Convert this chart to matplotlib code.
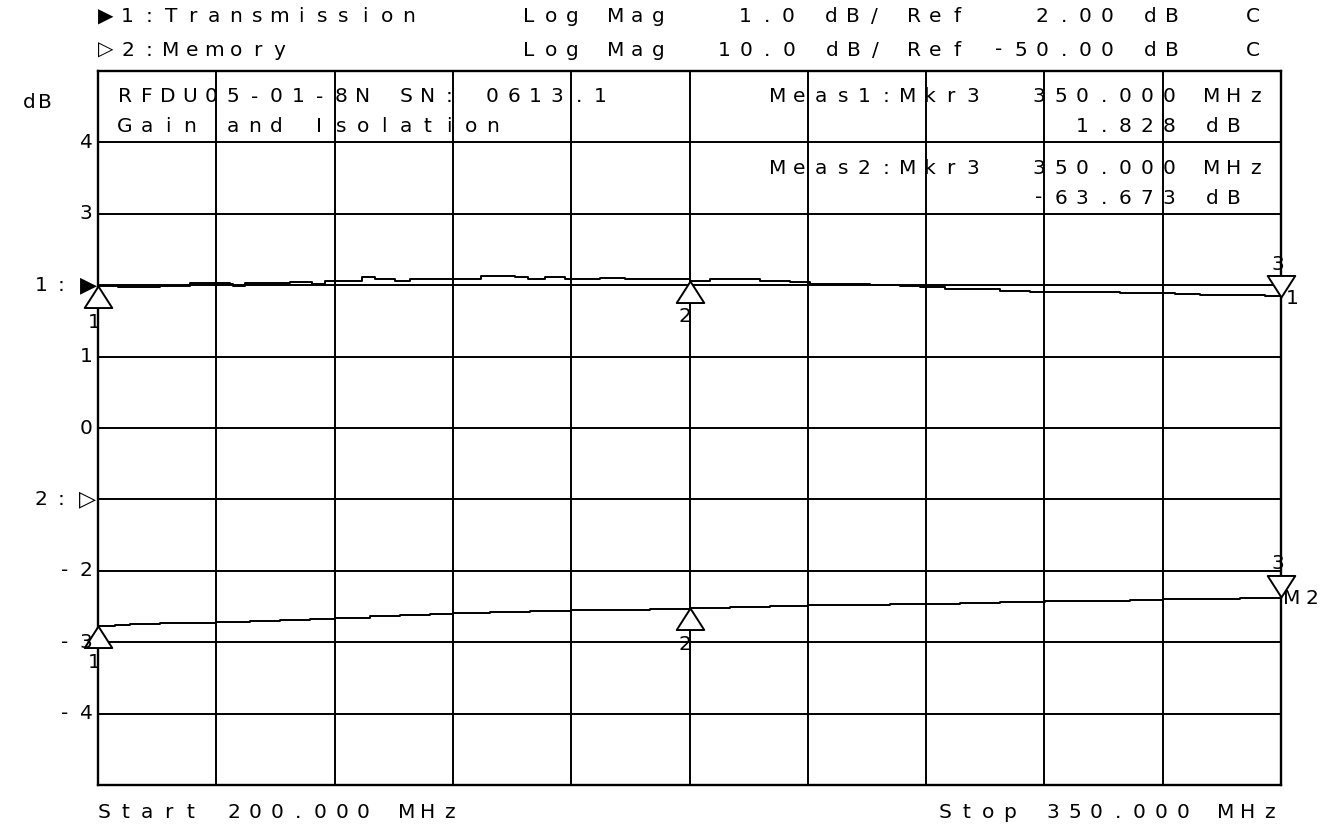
import matplotlib
matplotlib.use("Agg")
import matplotlib.pyplot as plt
from matplotlib.path import Path

# ---- trace data ----
# channel 1: Transmission, Log Mag 1.0 dB/div, Ref 2.00 dB
trans_freq_mhz = [200.0, 202.5, 205.1, 207.9, 210.4, 211.7, 214.2, 216.7, 217.1, 218.6,
                  221.8, 224.3, 227.1, 228.8, 232.0, 233.5, 235.1, 237.7, 239.6, 243.4,
                  245.9, 248.6, 251.0, 252.9, 254.5, 256.7, 259.2, 263.7, 266.8, 271.3,
                  275.0, 277.6, 281.4, 283.9, 287.7, 290.3, 294.1, 297.9, 301.7, 304.2,
                  307.4, 310.6, 314.4, 318.2, 322.0, 325.8, 329.6, 333.4, 336.6, 339.7,
                  342.3, 345.4, 348.0, 350.0]
trans_db = [1.985, 1.97, 1.975, 1.985, 1.99, 2.03, 2.03, 2.02, 1.985, 2.03,
            2.03, 2.04, 2.01, 2.06, 2.06, 2.11, 2.08, 2.06, 2.09, 2.09,
            2.08, 2.13, 2.13, 2.12, 2.09, 2.12, 2.09, 2.10, 2.08, 2.08,
            2.065, 2.09, 2.08, 2.06, 2.05, 2.02, 2.01, 2.00, 1.99, 1.97,
            1.95, 1.94, 1.92, 1.91, 1.90, 1.90, 1.89, 1.89, 1.87, 1.86,
            1.865, 1.86, 1.85, 1.828]

# channel 2: Memory, Log Mag 10.0 dB/div, Ref -50.00 dB
mem_freq_mhz = [200.0, 202.2, 204.1, 207.9, 211.7, 215.0, 219.3, 223.1, 226.9, 230.1,
                234.5, 238.3, 242.1, 245.0, 249.7, 254.8, 260.0, 264.9, 270.0, 275.0,
                280.1, 285.2, 290.0, 295.4, 300.4, 305.0, 309.3, 314.4, 320.1, 325.8,
                330.9, 335.0, 339.7, 344.8, 350.0]
mem_db = [-67.72, -67.65, -67.44, -67.37, -67.30, -67.23, -67.02, -66.88, -66.74, -66.60,
          -66.39, -66.18, -66.04, -65.97, -65.83, -65.69, -65.55, -65.48, -65.34, -65.20,
          -65.06, -64.92, -64.85, -64.78, -64.71, -64.64, -64.57, -64.43, -64.29, -64.22,
          -64.08, -64.01, -63.94, -63.80, -63.673]

marker_freq_mhz = [200.0, 275.0, 350.0]
marker_names = ["1", "2", "3"]

# y axis annotation (channel 1 scale), in divisions from the bottom
ytick_div = [9, 8, 6, 5, 3, 2, 1]
ytick_text = ["4", "3", "1", "0", "-2", "-3", "-4"]

# scale settings: (dB per div, reference value, reference position in divisions)
CH1 = (1.0, 2.0, 7)
CH2 = (10.0, -50.0, 4)

W, H = 1332, 826
FONT = ["DejaVu Sans"]
PITCH = 21.6 * 0.72  # character cell pitch in points
SIZE = 14.5


def to_div(values, scale):
    per_div, ref, ref_pos = scale
    return [ref_pos + (v - ref) / per_div for v in values]


def hp_text(ax, s, x, y, coords="figure pixels", pitch=PITCH, size=SIZE, dx=0.0, dy=0.0):
    """Draw a string one character per cell, like the analyzer's screen font."""
    if coords == "figure pixels":
        y = H - y
    for i, ch in enumerate(s):
        if ch == " ":
            continue
        ax.annotate(ch, xy=(x, y), xycoords=coords,
                    xytext=(dx + i * pitch, dy), textcoords="offset points",
                    ha="center", va="center", fontsize=size, family=FONT,
                    color="black", annotation_clip=False, zorder=6)


fig = plt.figure(figsize=(W / 100, H / 100), dpi=100)
fig.patch.set_facecolor("white")
x0, x1, y0, y1 = 98, 1281, 71, 785
ax = fig.add_axes([x0 / W, 1 - y1 / H, (x1 - x0) / W, (y1 - y0) / H])

ax.set_xlim(200, 350)
ax.set_ylim(0, 10)
ax.set_xticks([200 + 15 * i for i in range(11)])
ax.set_yticks(range(11))
ax.grid(True, color="black", linewidth=1.4, zorder=1)
ax.set_axisbelow(True)
ax.tick_params(length=0, labelbottom=False, labelleft=False)
for sp in ax.spines.values():
    sp.set_linewidth(1.7)
    sp.set_color("black")

# traces
ax.plot(trans_freq_mhz, to_div(trans_db, CH1), color="black", lw=1.4,
        drawstyle="steps-post", zorder=3)
ax.plot(mem_freq_mhz, to_div(mem_db, CH2), color="black", lw=1.4,
        drawstyle="steps-post", zorder=3)

# marker symbols: open triangles with the tip on the trace
tri_up = Path([(0, 0), (-0.64, -1), (0.64, -1), (0, 0)],
              [Path.MOVETO, Path.LINETO, Path.LINETO, Path.CLOSEPOLY])
tri_down = Path([(0, 0), (-0.64, 1), (0.64, 1), (0, 0)],
                [Path.MOVETO, Path.LINETO, Path.LINETO, Path.CLOSEPOLY])

for freqs, vals, scale, ch_label in [(trans_freq_mhz, trans_db, CH1, "1"),
                                     (mem_freq_mhz, mem_db, CH2, "M2")]:
    for name, f in zip(marker_names, marker_freq_mhz):
        yv = to_div([vals[freqs.index(f)]], scale)[0]
        last = name == "3"
        ax.plot([f], [yv], marker=tri_down if last else tri_up, markersize=31,
                markerfacecolor="white", markeredgecolor="black", markeredgewidth=1.4,
                clip_on=False, zorder=5)
        if last:
            hp_text(ax, name, f, yv, coords="data", dx=-2, dy=24)
            hp_text(ax, ch_label, f, yv, coords="data", pitch=14.4, dx=8, dy=-1)
        else:
            hp_text(ax, name, f, yv, coords="data", dx=-3, dy=-26)

# y axis labels and reference position arrows
for d, t in zip(ytick_div, ytick_text):
    hp_text(ax, t, 86 - (len(t) - 1) * 21.6, d, coords=("figure pixels", "data"))
hp_text(ax, "1:", 41, CH1[2], coords=("figure pixels", "data"), pitch=14.4)
hp_text(ax, "2:", 41, CH2[2], coords=("figure pixels", "data"), pitch=14.4)
hp_text(ax, "\u25b6", 88, CH1[2], coords=("figure pixels", "data"), size=16)
hp_text(ax, "\u25b7", 88, CH2[2], coords=("figure pixels", "data"), size=16)
hp_text(ax, "dB", 29, 103, pitch=16 * 0.72)

# header lines
hp_text(ax, "\u25b61:Transmission", 106, 17)
hp_text(ax, "Log Mag", 529, 17)
hp_text(ax, "1.0 dB/", 745, 17)
hp_text(ax, "Ref", 914, 17)
hp_text(ax, "2.00 dB", 1042, 17)
hp_text(ax, "C", 1253, 17)

hp_text(ax, "\u25b72:Memory", 106, 50)
hp_text(ax, "Log Mag", 529, 50)
hp_text(ax, "10.0 dB/", 724, 50)
hp_text(ax, "Ref", 914, 50)
hp_text(ax, "-50.00 dB", 999, 50)
hp_text(ax, "C", 1253, 50)

# title and marker readouts inside the graticule
hp_text(ax, "RFDU05-01-8N SN: 0613.1", 125, 97)
hp_text(ax, "Gain and Isolation", 125, 127)
hp_text(ax, "Meas1:Mkr3", 778, 97)
hp_text(ax, "350.000 MHz", 1039, 97)
hp_text(ax, f"  {trans_db[-1]:.3f} dB", 1039, 127)
hp_text(ax, "Meas2:Mkr3", 778, 168)
hp_text(ax, "350.000 MHz", 1039, 168)
hp_text(ax, f"{mem_db[-1]:.3f} dB", 1039, 198)

# sweep limits
hp_text(ax, "Start 200.000 MHz", 104, 812)
hp_text(ax, "Stop 350.000 MHz", 945, 812)

fig.savefig("out.png", dpi=100, facecolor="white")
